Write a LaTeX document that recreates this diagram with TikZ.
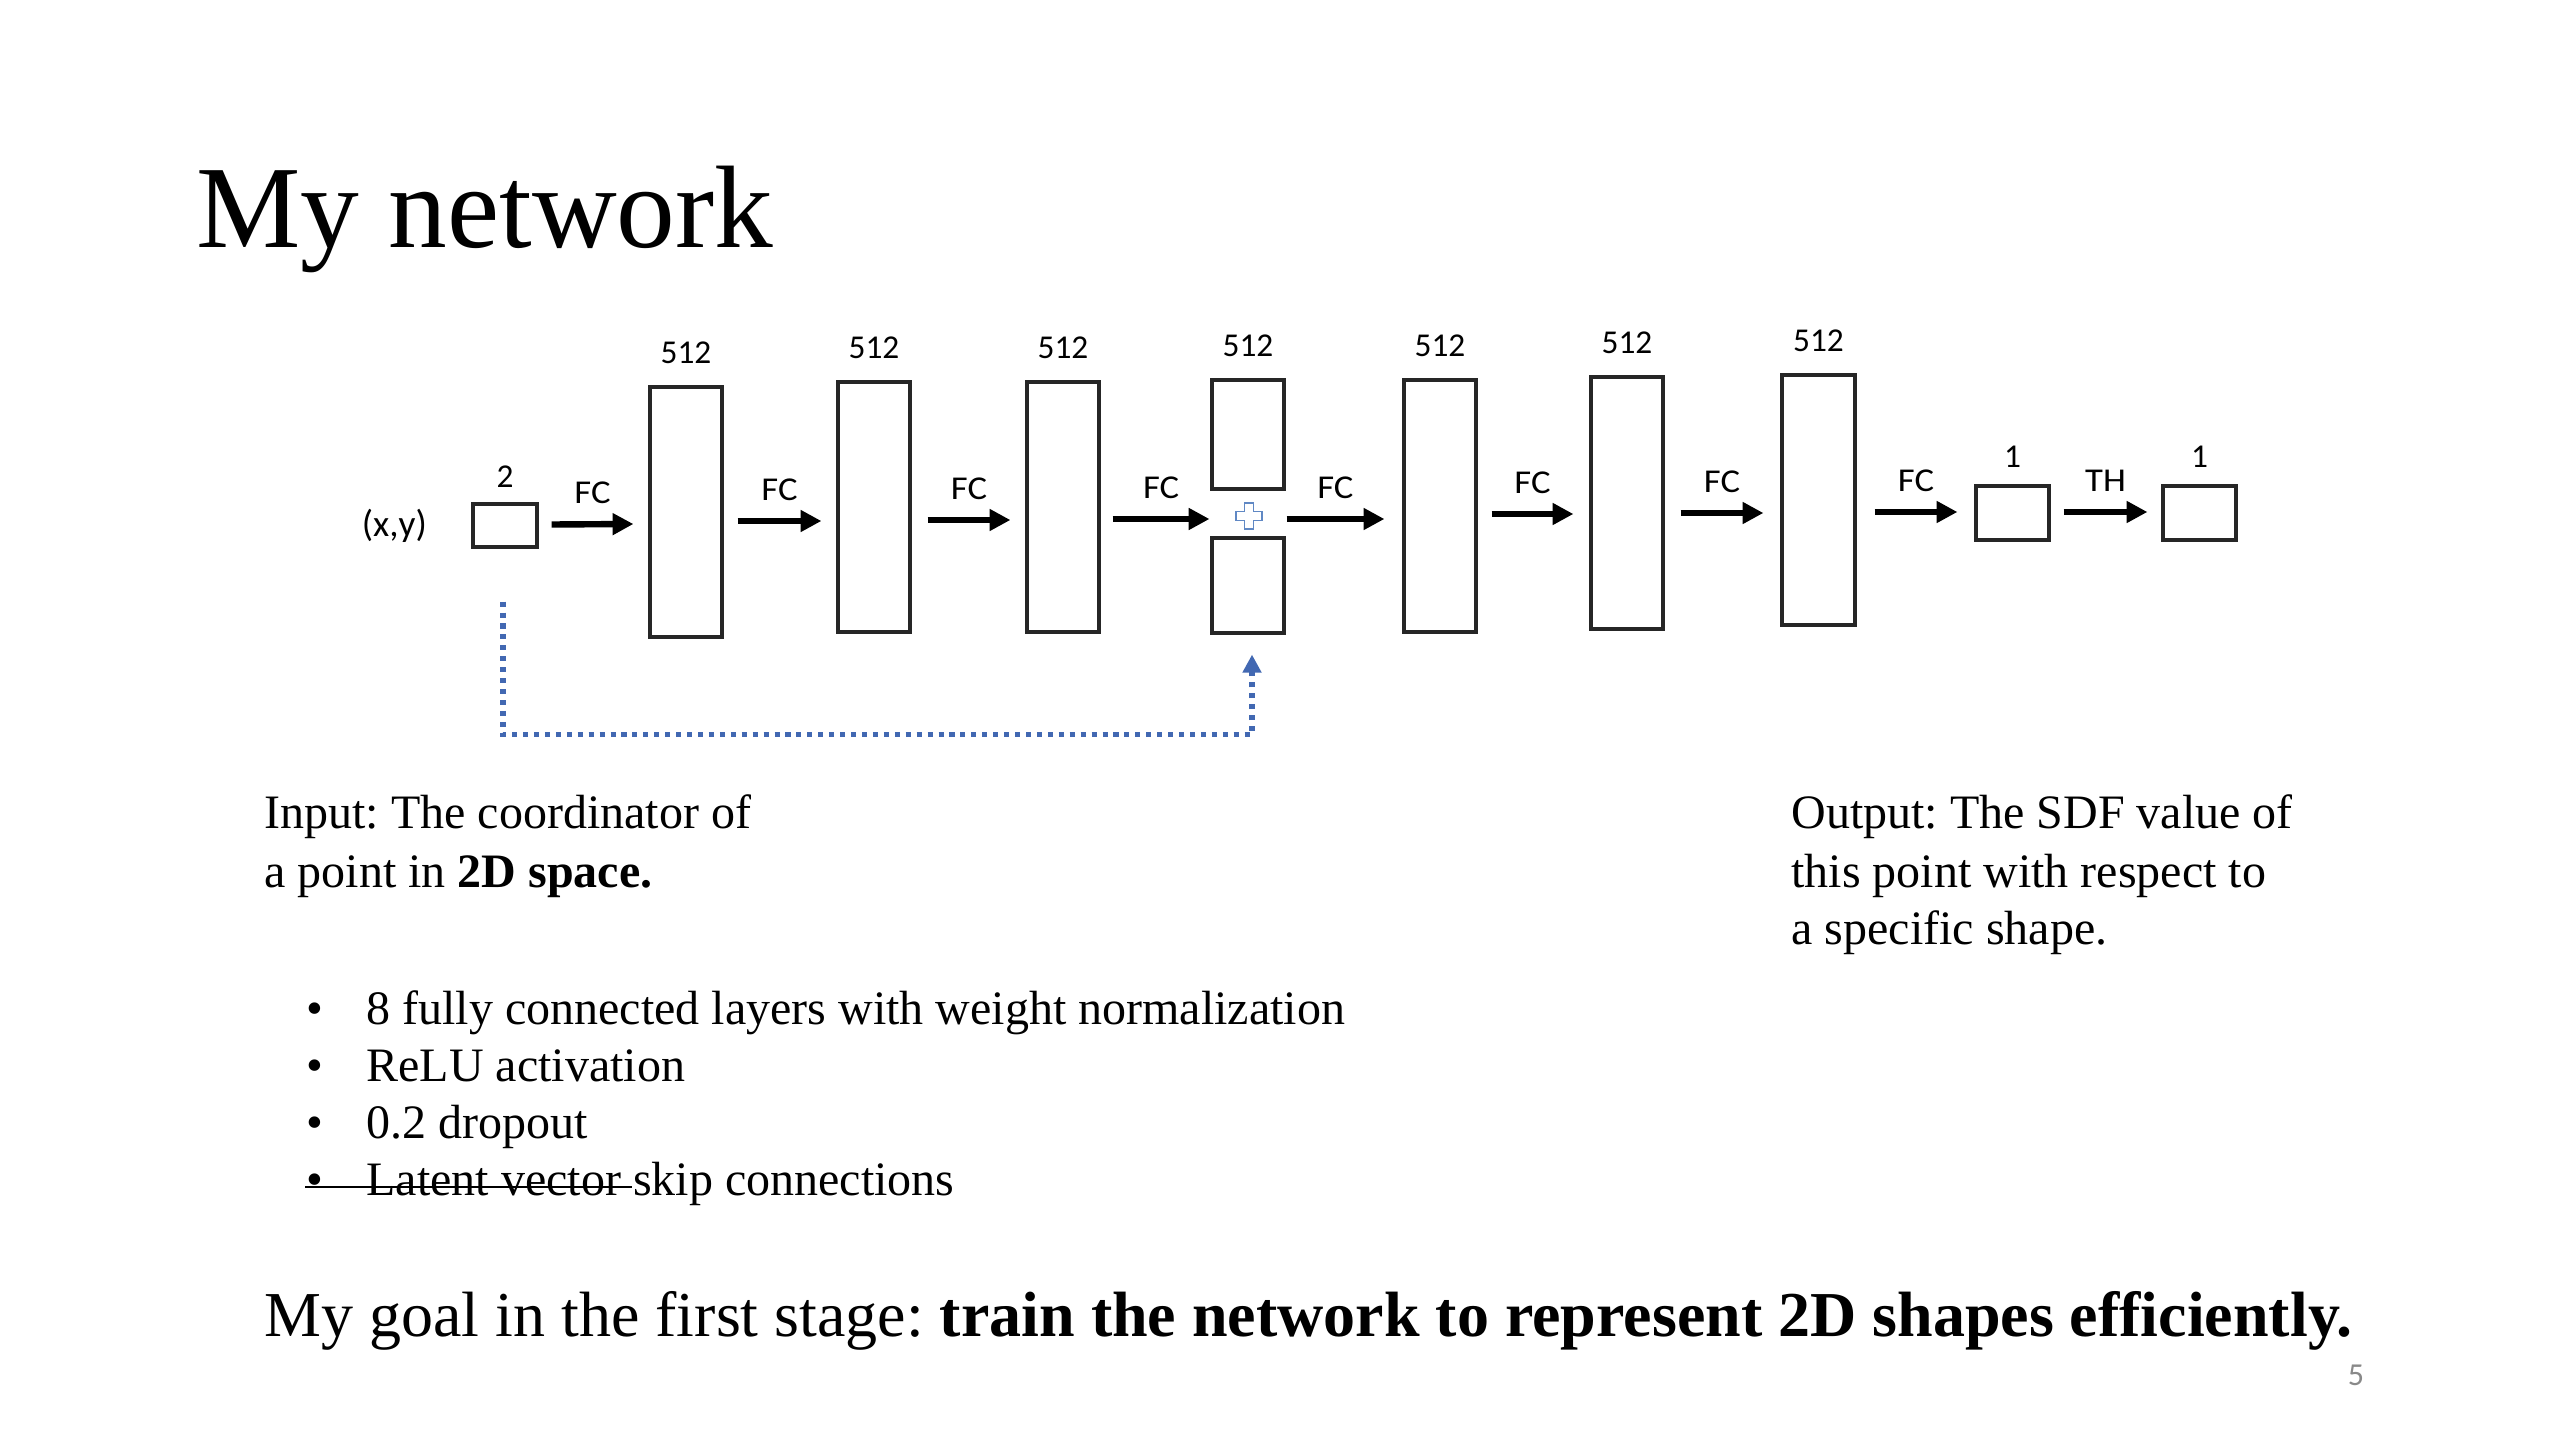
\documentclass[tikz,border=0pt]{standalone}
\usepackage{fontspec}
\setmainfont{Liberation Serif}
\newfontfamily\carlito{Carlito}
\usetikzlibrary{arrows.meta,fit,positioning,calc}
\definecolor{skipblue}{RGB}{66,104,178}
\definecolor{plusblue}{RGB}{96,136,196}
\definecolor{pagegray}{RGB}{137,137,137}
\newcommand{\widelbl}[1]{\scalebox{1.1}[1]{#1}}
\frenchspacing
\tikzset{
  layer/.style={draw=black!85, line width=1.2pt, fill=white, inner sep=0pt},
  fc/.style={black, line width=2.4pt, -{Triangle[length=7.8pt,width=7.8pt]}},
  op/.style={font=\carlito\fontsize{12.5}{14}\selectfont, inner sep=0pt},
  dimlbl/.style={font=\carlito\fontsize{12.5}{14}\selectfont, inner sep=0pt},
  skiplink/.style={skipblue, line width=1.9pt, dash pattern=on 1.9pt off 2.2pt,
    -{Triangle[length=6.8pt,width=6.8pt]}},
  txt/.style={inner sep=0pt, anchor=base west, font=\fontsize{18}{22}\selectfont},
}
\begin{document}
\begin{tikzpicture}[x=0.375pt, y=-0.375pt]
\fill[white] (0,0) rectangle (2560,1440);
\useasboundingbox (0,0) rectangle (2560,1440);

% title
\node[inner sep=0pt, anchor=base west, font=\fontsize{44}{52}\selectfont] (title) at (196,248) {My network};

% layers
\node[layer, fit={(473,504) (537,547)}] (in) {};
\node[layer, fit={(650,387) (722,637)}] (r1) {};
\node[layer, fit={(838,382) (910,632)}] (r2) {};
\node[layer, fit={(1027,382) (1099,632)}] (r3) {};
\node[layer, fit={(1212,380) (1284,489)}] (r4a) {};
\node[layer, fit={(1212,538) (1284,633)}] (r4b) {};
\node[layer, fit={(1404,380) (1476,632)}] (r5) {};
\node[layer, fit={(1591,377) (1663,629)}] (r6) {};
\node[layer, fit={(1782,375) (1855,625)}] (r7) {};
\node[layer, fit={(1976,486) (2049,540)}] (o1) {};
\node[layer, fit={(2163,486) (2236,540)}] (o2) {};

% layer sizes
\node[dimlbl, above=5.5pt of in.north] (lin) {2};
\node[dimlbl, above=8pt of r1.north] (l1) {512};
\node[dimlbl, above=8pt of r2.north] (l2) {512};
\node[dimlbl, above=8pt of r3.north] (l3) {512};
\node[dimlbl, above=8pt of r4a.north] (l4) {512};
\node[dimlbl, above=8pt of r5.north] (l5) {512};
\node[dimlbl, above=8pt of r6.north] (l6) {512};
\node[dimlbl, above=8pt of r7.north] (l7) {512};
\node[dimlbl, above=6pt of o1.north] (lo1) {1};
\node[dimlbl, above=6pt of o2.north] (lo2) {1};

% input label
\node[op, font=\carlito\fontsize{14}{16}\selectfont, left=16.5pt of in] (xy) {(x,y)};

% concatenation sign
\node[inner sep=0pt, minimum size=26*0.375pt] (plus) at (1249,516) {};
\draw[plusblue, line width=0.7pt, fill=white]
  (plus.center) ++(-4.5,-13) -- ++(9,0) -- ++(0,8.5) -- ++(8.5,0) -- ++(0,9)
  -- ++(-8.5,0) -- ++(0,8.5) -- ++(-9,0) -- ++(0,-8.5) -- ++(-8.5,0)
  -- ++(0,-9) -- ++(8.5,0) -- cycle;

% forward connections
\draw[fc] ($(in.east)+(13,-1)$) -- ($(r1.west)+(-15,12)$) node[op, midway, above=6.5pt] {\widelbl{FC}};
\draw[fc] ($(r1.east)+(14,9)$) -- ($(r2.west)+(-15,14)$) node[op, midway, above=6.5pt] {\widelbl{FC}};
\draw[fc] ($(r2.east)+(16,13)$) -- ($(r3.west)+(-15,13)$) node[op, midway, above=6.5pt] {\widelbl{FC}};
\draw[fc] ($(r3.east)+(12,12)$) -- ($(plus.west)+(-26,3)$) node[op, midway, above=6.5pt] {\widelbl{FC}};
\draw[fc] ($(plus.east)+(24,3)$) -- ($(r5.west)+(-18,13)$) node[op, midway, above=6.5pt] {\widelbl{FC}};
\draw[fc] ($(r5.east)+(14,8)$) -- ($(r6.west)+(-16,11)$) node[op, midway, above=6.5pt] {\widelbl{FC}};
\draw[fc] ($(r6.east)+(16,10)$) -- ($(r7.west)+(-17,13)$) node[op, midway, above=6.5pt] {\widelbl{FC}};
\draw[fc] ($(r7.east)+(18,12)$) -- ($(o1.west)+(-17,-1)$) node[op, midway, above=6.5pt] {\widelbl{FC}};
\draw[fc] ($(o1.east)+(13,-1)$) -- ($(o2.west)+(-14,-1)$) node[op, midway, above=6.5pt] {\widelbl{TH}};

% skip connection
\draw[skiplink] ($(in.south)+(-2,53)$) |- ($(r4b.south)+(4,100)$) -- ($(r4b.south)+(4,20)$);

% input / output description
\node[txt] (inp1) at (264,828) {Input: The coordinator of};
\node[txt] (inp2) at (264,887) {a point in \textbf{2D space.}};
\node[txt] (out1) at (1791,828) {Output: The SDF value of};
\node[txt] (out2) at (1791,887) {this point with respect to};
\node[txt] (out3) at (1791,944) {a specific shape.};

% bullet list
\node[txt] (bu1) at (306,1024) {•};
\node[txt] (bt1) at (366,1024) {8 fully connected layers with weight normalization};
\node[txt] (bu2) at (306,1081) {•};
\node[txt] (bt2) at (366,1081) {ReLU activation};
\node[txt] (bu3) at (306,1138) {•};
\node[txt] (bt3) at (366,1138) {0.2 dropout};
\node[txt] (bu4) at (306,1195) {•};
\node[txt] (bt4) at (366,1195) {Latent vector skip connections};
\draw[black, line width=0.8pt] ($(bu4.base west)+(-1,-8)$) -- ($(bt4.base west)+(266,-8)$);

% goal
\node[txt, font=\fontsize{24}{29}\selectfont] (goal) at (264,1336)
  {My goal in the first stage: \textbf{train the network to represent 2D shapes efficiently.}};

% page number
\node[inner sep=0pt, font=\carlito\fontsize{12}{14}\selectfont, text=pagegray] (page) at (2356,1375) {5};
\end{tikzpicture}
\end{document}
